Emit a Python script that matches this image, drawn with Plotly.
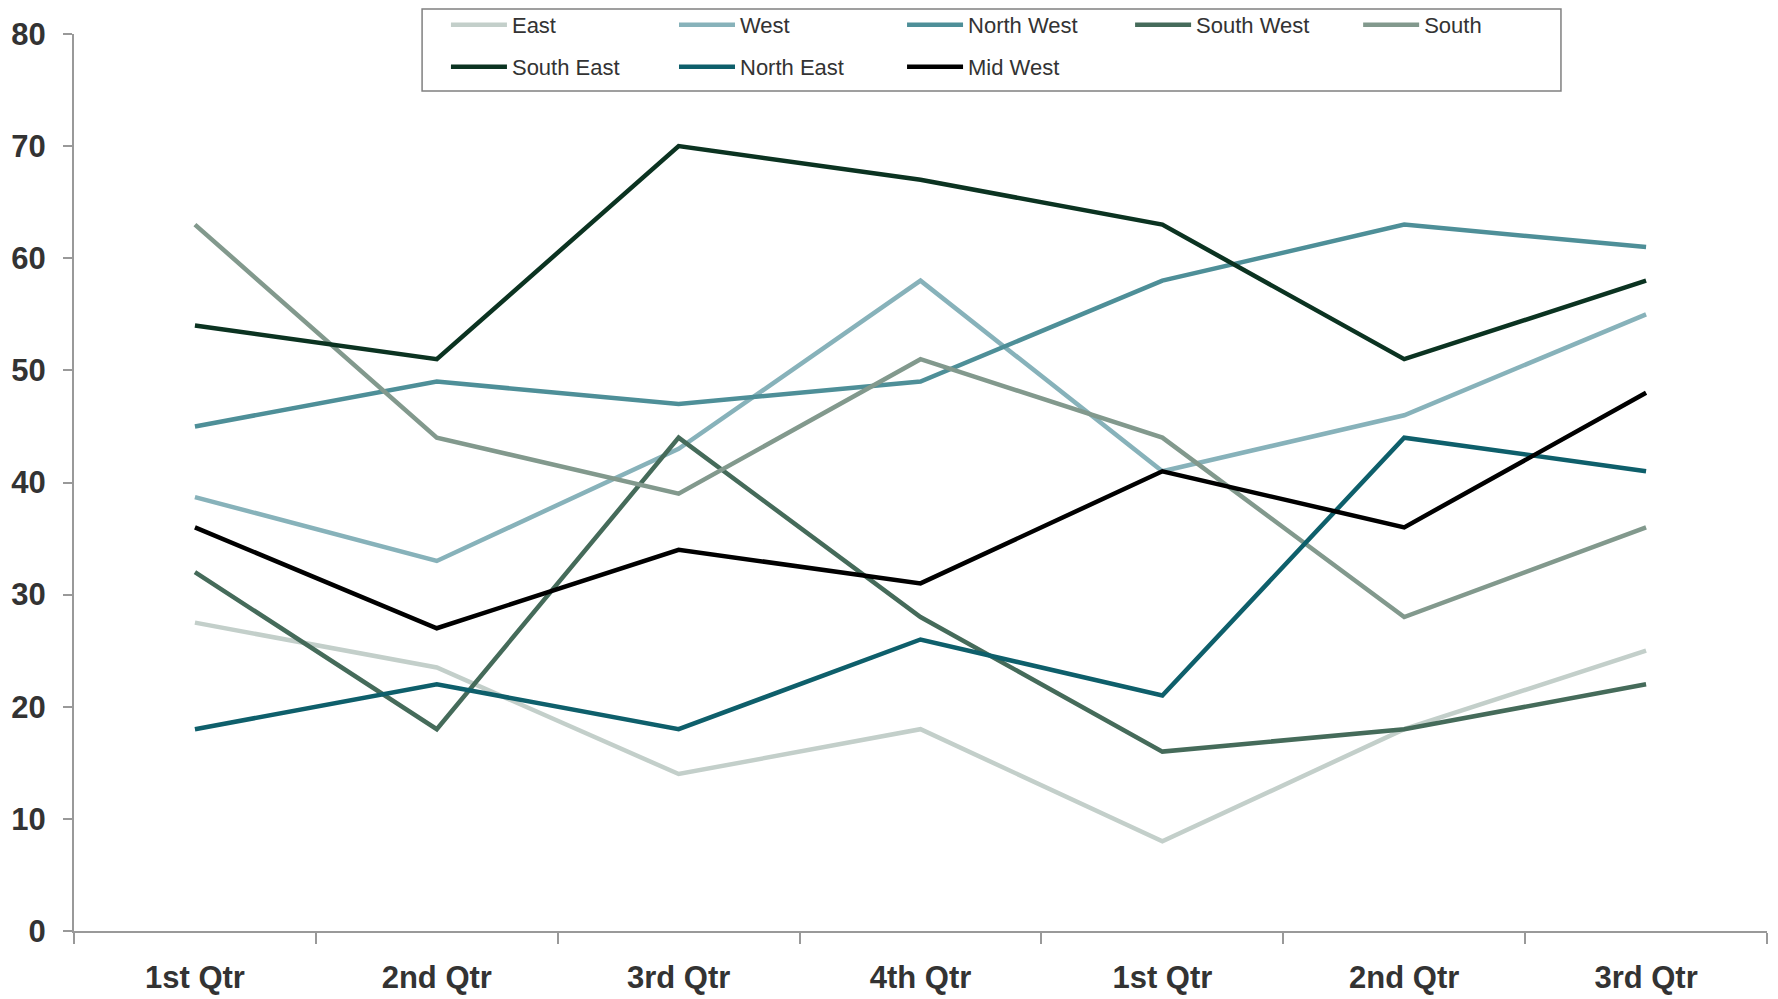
import plotly.graph_objects as go

categories = ["1st Qtr", "2nd Qtr", "3rd Qtr", "4th Qtr", "1st Qtr", "2nd Qtr", "3rd Qtr"]
east = [27.5, 23.5, 14, 18, 8, 18, 25]
west = [38.7, 33, 43, 58, 41, 46, 55]
north_west = [45, 49, 47, 49, 58, 63, 61]
south_west = [32, 18, 44, 28, 16, 18, 22]
south = [63, 44, 39, 51, 44, 28, 36]
south_east = [54, 51, 70, 67, 63, 51, 58]
north_east = [18, 22, 18, 26, 21, 44, 41]
mid_west = [36, 27, 34, 31, 41, 36, 48]

series = [
    ("East", east, "#C3CFCA"),
    ("West", west, "#87B2BA"),
    ("North West", north_west, "#4E8F98"),
    ("South West", south_west, "#456B5A"),
    ("South", south, "#82998D"),
    ("South East", south_east, "#0B3321"),
    ("North East", north_east, "#0E5F6B"),
    ("Mid West", mid_west, "#000000"),
]

xpos = list(range(len(categories)))

fig = go.Figure()
for i, (name, vals, color) in enumerate(series):
    fig.add_trace(go.Scatter(x=xpos, y=vals, name=name, mode="lines",
                             line=dict(color=color, width=4.5),
                             legend="legend" if i < 5 else "legend2"))

leg_common = dict(
    orientation="h", x=0.2197, xanchor="left", yanchor="middle",
    entrywidth=0.1347, entrywidthmode="fraction", itemwidth=56,
    borderwidth=0, bgcolor="rgba(0,0,0,0)",
    font=dict(size=22, color="#333333"),
)

fig.update_layout(
    width=1770, height=991,
    margin=dict(l=66, r=11, t=26, b=68, autoexpand=False),
    plot_bgcolor="white", paper_bgcolor="white",
    font=dict(family="Liberation Sans, Arial", color="#333333"),
    legend=dict(y=1.010, **leg_common),
    legend2=dict(y=0.9632, **leg_common),
    shapes=[dict(type="rect", xref="paper", yref="paper",
                 x0=0.2056, x1=0.8783, y0=0.9365, y1=1.0279,
                 line=dict(color="#808080", width=1.5), fillcolor="white", layer="below")],
)
fig.update_xaxes(
    range=[-0.5, 6.5], tickmode="array", tickvals=xpos, ticktext=categories,
    ticks="", showgrid=False, zeroline=False, automargin=False,
    showline=True, linecolor="#999999", linewidth=2,
    tickfont=dict(size=31, color="#333333", family="Liberation Sans, Arial", weight="bold"),
    ticklabelstandoff=18,
    minor=dict(tickmode="linear", tick0=-0.5, dtick=1, ticks="outside", ticklen=11,
               tickcolor="#999999", tickwidth=1.5, showgrid=False),
)
fig.update_yaxes(
    range=[0, 80], dtick=10, ticks="outside", ticklen=9, tickcolor="#999999", tickwidth=1.5,
    showgrid=False, zeroline=False, showline=True, linecolor="#999999", linewidth=2,
    automargin=False,
    tickfont=dict(size=31, color="#333333", family="Liberation Sans, Arial", weight="bold"),
    ticklabelstandoff=11,
)

fig.write_html("out.html")
